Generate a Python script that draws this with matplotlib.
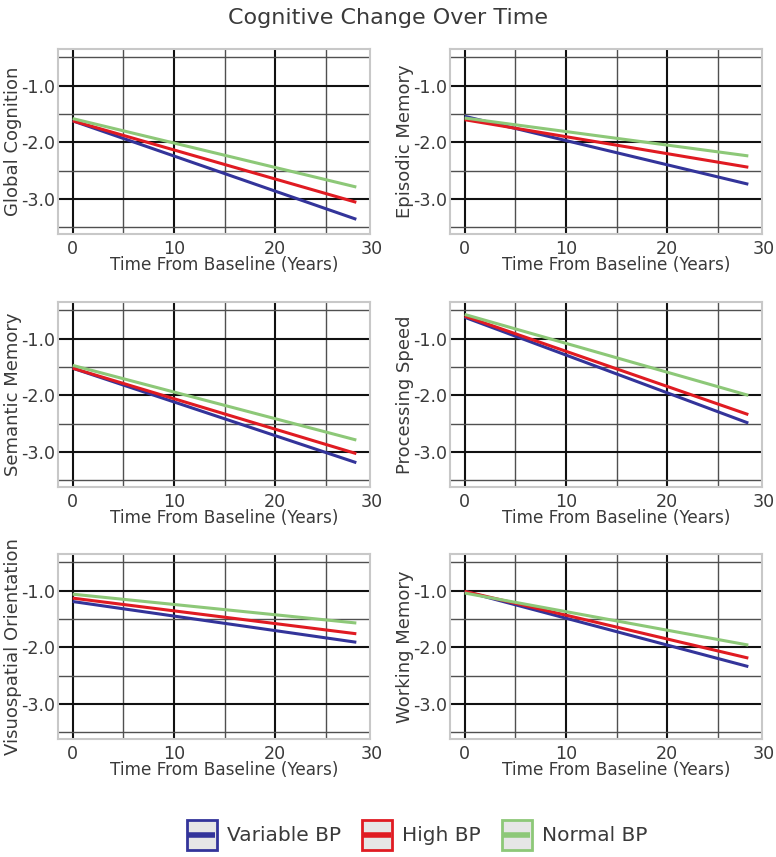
import matplotlib
matplotlib.use("Agg")
import matplotlib.pyplot as plt
from matplotlib.lines import Line2D
from matplotlib.patches import Rectangle
from matplotlib.legend_handler import HandlerBase
import matplotlib.transforms as mtransforms

# data (value at year 0 and year 28)
years = [0, 28]
panel_names = ["Global Cognition", "Episodic Memory", "Semantic Memory",
               "Processing Speed", "Visuospatial Orientation", "Working Memory"]
variable_bp = [[-1.62, -3.36], [-1.54, -2.74], [-1.52, -3.19],
               [-0.62, -2.49], [-1.19, -1.91], [-1.01, -2.34]]
high_bp = [[-1.62, -3.06], [-1.60, -2.44], [-1.52, -3.03],
           [-0.60, -2.34], [-1.13, -1.76], [-1.01, -2.19]]
normal_bp = [[-1.58, -2.79], [-1.57, -2.24], [-1.47, -2.79],
             [-0.57, -2.00], [-1.06, -1.57], [-1.04, -1.96]]
group_labels = ["Variable BP", "High BP", "Normal BP"]
group_colors = ["#33349a", "#e01b22", "#8dc878"]

x_ticks = [0, 10, 20]
x_minor = [5, 15, 25]
y_ticks = [-1.0, -2.0, -3.0]
y_minor = [-0.5, -1.5, -2.5, -3.5]

text_col = "#3a3a3a"
plt.rcParams['font.family'] = ['DejaVu Sans']

W, H = 776, 857
fig = plt.figure(figsize=(W / 100, H / 100), dpi=100)

lefts = [58, 450]
tops = [49, 302, 554]
ax_w, ax_h = 312, 185
xmin, xmax = -1.45, 29.35

for i, name in enumerate(panel_names):
    row, col = i // 2, i % 2
    ax = fig.add_axes([lefts[col] / W, 1 - (tops[row] + ax_h) / H, ax_w / W, ax_h / H])
    series = [variable_bp[i], high_bp[i], normal_bp[i]]
    for vals, c in zip(series, group_colors):
        ax.plot(years, vals, color=c, lw=2.2, solid_capstyle='butt', zorder=3)

    ax.set_xlim(xmin, xmax)
    ax.set_ylim(-3.62, -0.35)
    ax.set_xticks(x_ticks)
    ax.set_xticks(x_minor, minor=True)
    ax.set_yticks(y_ticks)
    ax.set_yticks(y_minor, minor=True)
    ax.set_yticklabels([f"{v:.1f}" for v in y_ticks])
    ax.tick_params(which='both', length=0)
    ax.tick_params(axis='x', pad=4, labelsize=12.6, labelcolor=text_col)
    ax.tick_params(axis='y', pad=2, labelsize=12.6, labelcolor=text_col)
    ax.grid(which='major', color='#111111', lw=1.5)
    ax.grid(which='minor', color='#505050', lw=1.0)
    ax.set_axisbelow(True)
    for sp in ax.spines.values():
        sp.set_color('#c8c8c8')
        sp.set_linewidth(1.5)

    # "30" label sits just past the right edge
    tr = mtransforms.blended_transform_factory(ax.transData, ax.transAxes)
    shift = mtransforms.ScaledTranslation(0, -4 / 72, fig.dpi_scale_trans)
    ax.text(29.5, 0.0, "30", transform=tr + shift, ha='center', va='top',
            fontsize=12.6, color=text_col, clip_on=False)

    ax.set_xlabel("Time From Baseline (Years)", fontsize=12.2, color=text_col)
    ax.xaxis.set_label_coords((15 - xmin) / (xmax - xmin), -0.12)
    ax.xaxis.label.set_va('top')
    ax.set_ylabel(name, fontsize=13, color=text_col)
    ax.yaxis.set_label_coords(-0.115, 0.5)

fig.text(388 / W, 1 - 18 / H, "Cognitive Change Over Time", ha='center', va='center',
         fontsize=16, color=text_col)


class BoxLineHandler(HandlerBase):
    def create_artists(self, legend, orig_handle, xdescent, ydescent,
                       width, height, fontsize, trans):
        c = orig_handle.get_color()
        box = Rectangle((-xdescent, -ydescent), width, height, facecolor='#e6e6e6',
                        edgecolor=c, lw=2, transform=trans)
        ymid = -ydescent + height / 2
        line = Line2D([-xdescent + 1, -xdescent + width - 1], [ymid, ymid],
                      color=c, lw=4, solid_capstyle='butt', transform=trans)
        return [box, line]


handles = [Line2D([], [], color=c) for c in group_colors]
fig.legend(handles, group_labels, loc='center', bbox_to_anchor=(417 / W, 1 - 835 / H),
           ncol=3, frameon=False, fontsize=14.5, handlelength=1.49, handleheight=1.99,
           handletextpad=0.5, columnspacing=1.05, labelcolor=text_col,
           handler_map={Line2D: BoxLineHandler()})

fig.savefig("out.png", dpi=100)
